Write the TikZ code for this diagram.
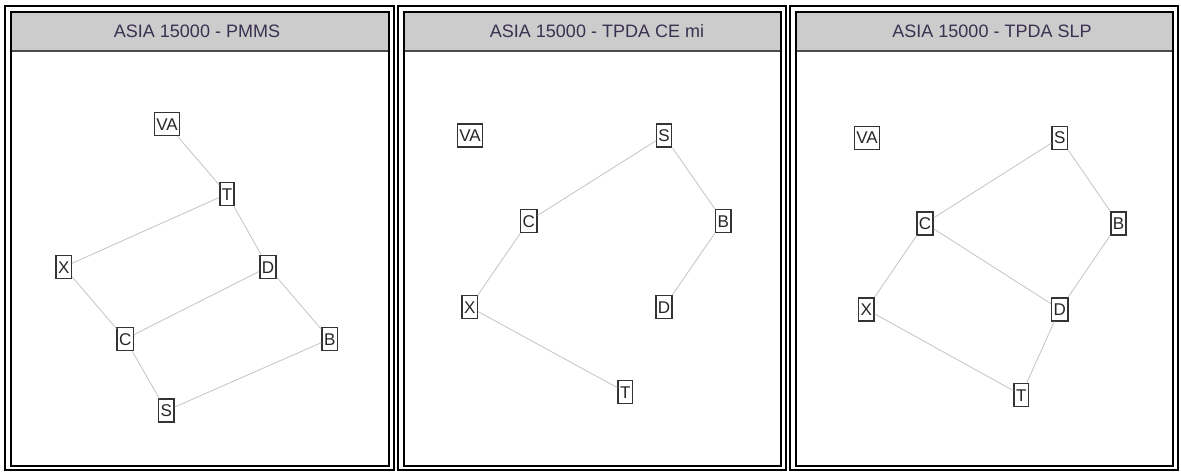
\documentclass[tikz,border=0pt]{standalone}
\usepackage{fontspec}
\setmainfont{Liberation Sans}
\usetikzlibrary{positioning}
\definecolor{hdrgray}{HTML}{CCCCCC}
\definecolor{edgegray}{HTML}{C4C4C4}
\definecolor{boxgray}{HTML}{333333}
\definecolor{titletext}{HTML}{3A3050}
\tikzset{
  frameout/.style={draw=black, line width=2pt},
  framein/.style ={draw=black, line width=1.5pt},
  header/.style  ={fill=hdrgray},
  hdrline/.style ={draw=black!70, line width=1.5pt},
  title/.style   ={font=\fontsize{18}{21}\selectfont, text=titletext, anchor=base, inner sep=0pt},
  var/.style     ={draw=boxgray, line width=1.5pt, inner xsep=2pt, inner ysep=0pt,
                   minimum height=23pt, text height=12pt, text depth=0pt,
                   font=\fontsize{17}{19}\selectfont, text=black!85},
  link/.style    ={draw=edgegray, line width=0.8pt},
}
\begin{document}
\begin{tikzpicture}[x=1pt,y=-1pt]
    \useasboundingbox (0,0) rectangle (1181,472);
    \fill[white] (0,0) rectangle (1181,472);
    % --- frames and headers ---
    \foreach \xa/\xb in {5/394,398/786,790/1178}{
        \fill[header] (\xa+6,12) rectangle (\xb-5,51);
        \draw[hdrline] (\xa+6,51) -- (\xb-5,51);
        \draw[frameout] (\xa,6) rectangle (\xb,470);
        \draw[framein] (\xa+6,12) rectangle (\xb-5,466);
    }
    \node[title] (pmms-title) at (197,37.5) {ASIA 15000 - PMMS};
    \node[title] (ce-title)   at (597,37.5) {ASIA 15000 - TPDA CE mi};
    \node[title] (slp-title)  at (992,37.5) {ASIA 15000 - TPDA SLP};
    % --- PMMS ---
    \node[var] (pmms-VA) at (167,124)   {VA};
    \node[var] (pmms-T)  at (227,194)   {T};
    \node[var] (pmms-X)  at (63.7,267)  {X};
    \node[var] (pmms-D)  at (268,267)   {D};
    \node[var] (pmms-C)  at (125.3,339) {C};
    \node[var] (pmms-B)  at (329.7,339) {B};
    \node[var] (pmms-S)  at (166.3,410.7) {S};
    \draw[link] (pmms-VA) -- (pmms-T);
    \draw[link] (pmms-T) -- (pmms-X);
    \draw[link] (pmms-T) -- (pmms-D);
    \draw[link] (pmms-X) -- (pmms-C);
    \draw[link] (pmms-D) -- (pmms-C);
    \draw[link] (pmms-D) -- (pmms-B);
    \draw[link] (pmms-C) -- (pmms-S);
    \draw[link] (pmms-B) -- (pmms-S);
    % --- TPDA CE mi ---
    \node[var] (ce-VA) at (470,135.7)   {VA};
    \node[var] (ce-S)  at (664,135.7)   {S};
    \node[var] (ce-C)  at (528.7,221)   {C};
    \node[var] (ce-B)  at (723.3,221)   {B};
    \node[var] (ce-X)  at (469.7,307)   {X};
    \node[var] (ce-D)  at (664,307)     {D};
    \node[var] (ce-T)  at (625.3,392)   {T};
    \draw[link] (ce-S) -- (ce-C);
    \draw[link] (ce-S) -- (ce-B);
    \draw[link] (ce-C) -- (ce-X);
    \draw[link] (ce-B) -- (ce-D);
    \draw[link] (ce-X) -- (ce-T);
    % --- TPDA SLP ---
    \node[var] (slp-VA) at (867,137.8)    {VA};
    \node[var] (slp-S)  at (1059.8,137.8) {S};
    \node[var] (slp-C)  at (925,223.3)    {C};
    \node[var] (slp-B)  at (1118.5,223.3) {B};
    \node[var] (slp-X)  at (866.3,309.3)  {X};
    \node[var] (slp-D)  at (1059.8,309.3) {D};
    \node[var] (slp-T)  at (1021.3,395)   {T};
    \draw[link] (slp-S) -- (slp-C);
    \draw[link] (slp-S) -- (slp-B);
    \draw[link] (slp-C) -- (slp-X);
    \draw[link] (slp-C) -- (slp-D);
    \draw[link] (slp-B) -- (slp-D);
    \draw[link] (slp-X) -- (slp-T);
    \draw[link] (slp-D) -- (slp-T);
\end{tikzpicture}
\end{document}
